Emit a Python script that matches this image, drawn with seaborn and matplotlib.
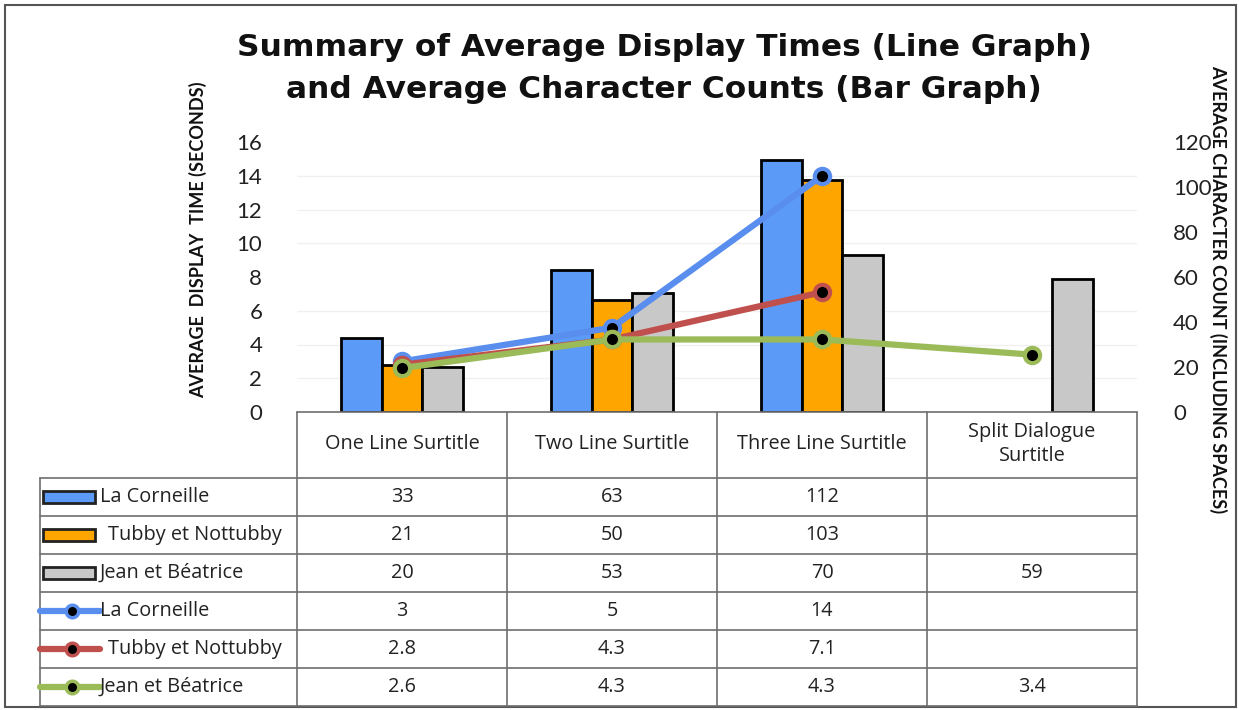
import numpy as np
import pandas as pd
import matplotlib
matplotlib.use("Agg")
import matplotlib.pyplot as plt
import seaborn as sns
from matplotlib.lines import Line2D
from matplotlib.patches import Rectangle

# ---------------- data ----------------
categories = ["One Line Surtitle", "Two Line Surtitle", "Three Line Surtitle", "Split Dialogue\nSurtitle"]
series = ["La Corneille", "Tubby et Nottubby", "Jean et Béatrice"]
char_counts = {
    "La Corneille": [33, 63, 112, np.nan],
    "Tubby et Nottubby": [21, 50, 103, np.nan],
    "Jean et Béatrice": [20, 53, 70, 59],
}
display_times = {
    "La Corneille": [3, 5, 14, np.nan],
    "Tubby et Nottubby": [2.8, 4.3, 7.1, np.nan],
    "Jean et Béatrice": [2.6, 4.3, 4.3, 3.4],
}
left_ticks = [0, 2, 4, 6, 8, 10, 12, 14, 16]
right_ticks = [0, 20, 40, 60, 80, 100, 120]

bar_colors = ["#5B9BF7", "#FFA500", "#C8C8C8"]
line_colors = ["#5A8EEE", "#C0504D", "#9BBB59"]

W, H = 1239, 710
sns.set_theme(style="white")
plt.rcParams['font.family'] = ['Lato', 'DejaVu Sans']

fig = plt.figure(figsize=(W / 100, H / 100), dpi=100)
fig.patch.set_facecolor("white")


def fx(px):
    return px / W


def fy(py):
    return 1 - py / H


x0, x1, y0, y1 = 297, 1137, 412, 142
ax = fig.add_axes([fx(x0), fy(y0), fx(x1) - fx(x0), fy(y1) - fy(y0)])
ax2 = ax.twinx()

# bars (right axis)
rows = []
for s in series:
    for c, v in zip(categories, char_counts[s]):
        rows.append({"cat": c, "series": s, "count": v})
df_bars = pd.DataFrame(rows)
sns.barplot(data=df_bars, x="cat", y="count", hue="series", order=categories,
            hue_order=series, palette=bar_colors, width=0.585, saturation=1,
            edgecolor="black", linewidth=2, ax=ax2, legend=False, errorbar=None)

# lines (left axis)
xpos = np.arange(len(categories))
for s, col in zip(series, line_colors):
    d = pd.DataFrame({"x": xpos, "t": display_times[s]}).dropna()
    sns.lineplot(data=d, x="x", y="t", ax=ax, color=col, lw=4.5, marker="o",
                 markersize=11, markerfacecolor="black", markeredgecolor=col,
                 markeredgewidth=3, zorder=5)

ax.set_zorder(ax2.get_zorder() + 1)
ax.patch.set_visible(False)

ax.set_xlim(-0.5, len(categories) - 0.5)
ax.set_ylim(0, 16)
ax2.set_ylim(0, 120)
ax.set_yticks(left_ticks)
ax2.set_yticks(right_ticks)
ax2.set_yticks(np.arange(0, 121, 15), minor=True)
ax2.yaxis.grid(True, which="minor", color="#F0F0F0", lw=1)
ax2.yaxis.grid(False, which="major")
ax.grid(False)
ax.set_xticks([])
ax2.set_xticks([])
ax.set_xlabel("")
ax.set_ylabel("")
ax2.set_xlabel("")
ax2.set_ylabel("")
for a in (ax, ax2):
    for sp in a.spines.values():
        sp.set_visible(False)
ax.tick_params(axis="y", which="both", length=0, pad=25, labelsize=16, labelcolor="#222222")
ax2.tick_params(axis="y", which="both", length=0, pad=26, labelsize=16, labelcolor="#222222")
ax2.tick_params(axis="y", which="minor", labelright=False)

# titles / axis labels
fig.text(fx(664), fy(47), "Summary of Average Display Times (Line Graph)", ha="center", va="center",
         fontsize=22.5, fontweight="bold", family="DejaVu Sans", color="#111111")
fig.text(fx(664), fy(89), "and Average Character Counts (Bar Graph)", ha="center", va="center",
         fontsize=22.5, fontweight="bold", family="DejaVu Sans", color="#111111")
fig.text(fx(198), fy(240), "AVERAGE  DISPLAY  TIME (SECONDS)", rotation=90, ha="center", va="center",
         fontsize=13, fontweight="bold", color="#111111")
fig.text(fx(1218), fy(289), "AVERAGE CHARACTER COUNT (INCLUDING SPACES)", rotation=-90, ha="center",
         va="center", fontsize=13, fontweight="bold", color="#111111")

# ---------------- data table ----------------
gc = "#6E6E6E"
tfont = ['Open Sans', 'DejaVu Sans']
tsize = 14.3
row_y = [478, 516, 554, 592, 630, 668, 706]
col_x = [x0 + i * 210 for i in range(len(categories) + 1)]
tl = 40


def hline(xa, xb, y):
    fig.add_artist(Line2D([fx(xa), fx(xb)], [fy(y), fy(y)], color=gc, lw=1.2))


def vline(x, ya, yb):
    fig.add_artist(Line2D([fx(x), fx(x)], [fy(ya), fy(yb)], color=gc, lw=1.2))


hline(x0, x1, y0)
for y in row_y:
    hline(tl, x1, y)
for x in col_x:
    vline(x, y0, row_y[-1])
vline(tl, row_y[0], row_y[-1])

for i, c in enumerate(categories):
    fig.text(fx((col_x[i] + col_x[i + 1]) / 2), fy(444), c, ha="center", va="center",
             fontsize=tsize, color="#222222", linespacing=1.3, family=tfont)

table_rows = []
for s in series:
    table_rows.append(("bar", s, char_counts[s]))
for s in series:
    table_rows.append(("line", s, display_times[s]))

for r, (kind, s, vals) in enumerate(table_rows):
    yc = (row_y[r] + row_y[r + 1]) / 2
    k = series.index(s)
    if kind == "bar":
        fig.add_artist(Rectangle((fx(43), fy(yc + 6)), fx(95) - fx(43), fy(yc - 6) - fy(yc + 6),
                                 facecolor=bar_colors[k], edgecolor="#222222", lw=2))
    else:
        fig.add_artist(Line2D([fx(40), fx(100)], [fy(yc), fy(yc)], color=line_colors[k], lw=4.5))
        fig.add_artist(Line2D([fx(72)], [fy(yc)], marker="o", markersize=9, markerfacecolor="black",
                              markeredgecolor=line_colors[k], markeredgewidth=2.5))
    lx = 108 if s == "Tubby et Nottubby" else 100
    fig.text(fx(lx), fy(yc), s, ha="left", va="center", fontsize=tsize, color="#222222", family=tfont)
    for i, v in enumerate(vals):
        if not np.isnan(v):
            fig.text(fx((col_x[i] + col_x[i + 1]) / 2), fy(yc), f"{v:g}", ha="center", va="center",
                     fontsize=tsize, color="#222222", family=tfont)

# outer border
fig.add_artist(Rectangle((fx(5), fy(707)), fx(1236) - fx(5), fy(5) - fy(707), facecolor="none",
                         edgecolor="#555555", lw=1.5))

fig.savefig("out.png", dpi=100)
